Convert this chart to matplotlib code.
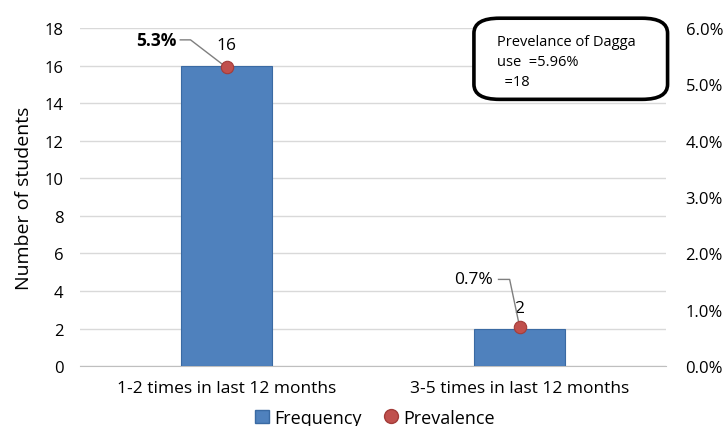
import matplotlib.pyplot as plt
from matplotlib.patches import FancyBboxPatch
from matplotlib.lines import Line2D
from matplotlib.patches import Patch

plt.rcParams['font.family'] = ['Open Sans', 'DejaVu Sans']

categories = ['1-2 times in last 12 months', '3-5 times in last 12 months']
frequency = [16, 2]
prevalence = [5.3, 0.7]
prev_labels = ['5.3%', '0.7%']

fig = plt.figure(figsize=(7.28, 4.27), dpi=100)
ax = fig.add_axes([0.11, 0.14, 0.805, 0.792])
ax2 = ax.twinx()

x = list(range(len(categories)))
ax.bar(x, frequency, width=0.31, color='#4f81bd', edgecolor='#3a6aa3', linewidth=0.8, zorder=3)
ax.set_xlim(-0.5, 1.5)
ax.set_ylim(0, 18)
ax.set_yticks(range(0, 19, 2))
ax.grid(axis='y', color='#d9d9d9', linewidth=1, zorder=0)
ax.set_axisbelow(True)
ax.set_xticks(x)
ax.set_xticklabels(categories, fontsize=12.5)
ax.tick_params(axis='y', length=0, labelsize=12, pad=12)
ax.tick_params(axis='x', length=0, pad=10)
ax.set_ylabel('Number of students', fontsize=14, labelpad=8)
for s in ['top', 'left', 'right']:
    ax.spines[s].set_visible(False)
    ax2.spines[s].set_visible(False)
ax.spines['bottom'].set_color('#bfbfbf')
ax2.spines['bottom'].set_visible(False)

ax2.set_ylim(0, 6)
ax2.set_yticks(range(0, 7))
ax2.set_yticklabels(['%.1f%%' % v for v in range(0, 7)])
ax2.tick_params(axis='y', length=0, labelsize=12, pad=14)
ax2.scatter(x, prevalence, s=80, color='#c0504d', edgecolor='#a33c39', linewidth=0.8, zorder=5)

# value labels for the bars
for xi, f in zip(x, frequency):
    ax.text(xi, f + 0.65, str(f), ha='center', va='bottom', fontsize=12.5, zorder=6)

# prevalence labels with leader lines: (text right edge, elbow start, elbow end, label height)
leaders = [(-0.17, -0.158, -0.123, 0.49), (0.91, 0.928, 0.966, 0.84)]
bolds = ['bold', 'normal']
for i in range(len(x)):
    tx, l0, l1, dy = leaders[i]
    ly = prevalence[i] + dy
    ax2.plot([l0, l1, x[i]], [ly, ly, prevalence[i]],
             color='#7f7f7f', linewidth=1, zorder=4)
    ax2.text(tx, ly, prev_labels[i], ha='right', va='center',
             fontsize=12.5, fontweight=bolds[i], zorder=6)

# summary box
box = FancyBboxPatch((0.651, 0.765), 0.266, 0.19, boxstyle='round,pad=0,rounding_size=0.035',
                     transform=fig.transFigure, facecolor='white', edgecolor='black',
                     linewidth=2.6, zorder=10)
fig.patches.append(box)
fig.text(0.683, 0.918, 'Prevelance of Dagga\nuse  =5.96%\n  =18', ha='left', va='top',
         fontsize=10.5, linespacing=1.45, zorder=11)

handles = [Patch(facecolor='#4f81bd', edgecolor='#3a6aa3', label='Frequency'),
           Line2D([], [], marker='o', linestyle='none', markersize=10, markerfacecolor='#c0504d',
                  markeredgecolor='#a33c39', label='Prevalence')]
fig.legend(handles=handles, loc='lower center', bbox_to_anchor=(0.515, -0.04), ncol=2, frameon=False,
           fontsize=13, handlelength=0.8, handleheight=0.8, handletextpad=0.3, columnspacing=1.2)

fig.savefig('out.png', dpi=100)
